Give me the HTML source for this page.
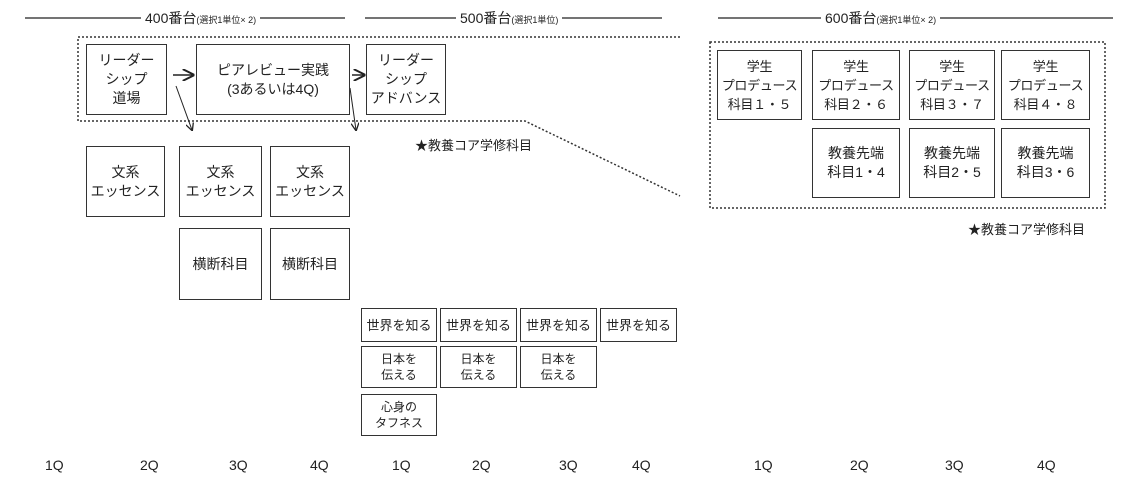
<!DOCTYPE html>
<html><head><meta charset="utf-8"><style>
body{margin:0;width:1134px;height:494px;background:#fff;position:relative;overflow:hidden;font-family:"Liberation Sans","Noto Sans CJK JP",sans-serif;color:#222}
.b{position:absolute;border:1.5px solid #333;box-sizing:border-box;display:flex;align-items:center;justify-content:center;text-align:center;font-size:14px;line-height:19px;background:#fff;white-space:nowrap}
.p{font-size:13px;letter-spacing:-0.3px}
.s{font-size:12px;line-height:16px}
.t{position:absolute;font-size:13px;white-space:nowrap}
.q{position:absolute;top:457px;font-size:14px}
.h{position:absolute;top:8px;font-size:14px;white-space:nowrap;background:#fff;padding:0 4px}
.h small{font-size:9px}
svg{position:absolute;left:0;top:0}
</style></head><body>
<svg width="1134" height="494">
<defs><marker id="a" markerWidth="8" markerHeight="8" refX="7" refY="4" orient="auto"><path d="M0,0 L8,4 L0,8" fill="none" stroke="#222" stroke-width="1.3"/></marker></defs>
<g stroke="#222" stroke-width="1.3">
<line x1="25" y1="18" x2="345" y2="18"/>
<line x1="365" y1="18" x2="662" y2="18"/>
<line x1="718" y1="18" x2="1113" y2="18"/>
</g>
<g fill="none" stroke="#333" stroke-width="1.5" stroke-dasharray="2,2">
<polyline points="680,37 78,37 78,121 525,121 680,196"/>
<rect x="710" y="42" width="395" height="166"/>
</g>
<g stroke="#222" stroke-width="1.5" fill="none">
<line x1="173" y1="75" x2="193" y2="75" marker-end="url(#a)"/>
<line x1="352" y1="75" x2="364" y2="75" marker-end="url(#a)"/>
</g>
<g stroke="#222" stroke-width="1" fill="none">
<line x1="176" y1="86" x2="192" y2="130" marker-end="url(#a)"/>
<line x1="350" y1="88" x2="356" y2="130" marker-end="url(#a)"/>
</g>
</svg>
<div class="h" style="left:141px">400番台<small>(選択1単位× 2)</small></div>
<div class="h" style="left:456px">500番台<small>(選択1単位)</small></div>
<div class="h" style="left:821px">600番台<small>(選択1単位× 2)</small></div>

<div class="b" style="left:86px;top:44px;width:81px;height:71px">リーダー<br>シップ<br>道場</div>
<div class="b" style="left:196px;top:44px;width:154px;height:71px">ピアレビュー実践<br>(3あるいは4Q)</div>
<div class="b" style="left:366px;top:44px;width:80px;height:71px">リーダー<br>シップ<br>アドバンス</div>
<div class="t" style="left:415px;top:135px">★教養コア学修科目</div>

<div class="b" style="left:86px;top:146px;width:79px;height:71px">文系<br>エッセンス</div>
<div class="b" style="left:179px;top:146px;width:83px;height:71px">文系<br>エッセンス</div>
<div class="b" style="left:270px;top:146px;width:80px;height:71px">文系<br>エッセンス</div>
<div class="b" style="left:179px;top:228px;width:83px;height:72px">横断科目</div>
<div class="b" style="left:270px;top:228px;width:80px;height:72px">横断科目</div>

<div class="b" style="left:361px;top:308px;width:76px;height:34px;font-size:13px">世界を知る</div>
<div class="b" style="left:440px;top:308px;width:77px;height:34px;font-size:13px">世界を知る</div>
<div class="b" style="left:520px;top:308px;width:77px;height:34px;font-size:13px">世界を知る</div>
<div class="b" style="left:600px;top:308px;width:77px;height:34px;font-size:13px">世界を知る</div>
<div class="b s" style="left:361px;top:346px;width:76px;height:42px">日本を<br>伝える</div>
<div class="b s" style="left:440px;top:346px;width:77px;height:42px">日本を<br>伝える</div>
<div class="b s" style="left:520px;top:346px;width:77px;height:42px">日本を<br>伝える</div>
<div class="b s" style="left:361px;top:394px;width:76px;height:42px">心身の<br>タフネス</div>

<div class="b p" style="left:717px;top:50px;width:85px;height:70px">学生<br>プロデュース<br>科目１・５</div>
<div class="b p" style="left:812px;top:50px;width:88px;height:70px">学生<br>プロデュース<br>科目２・６</div>
<div class="b p" style="left:909px;top:50px;width:86px;height:70px">学生<br>プロデュース<br>科目３・７</div>
<div class="b p" style="left:1001px;top:50px;width:89px;height:70px">学生<br>プロデュース<br>科目４・８</div>
<div class="b" style="left:812px;top:128px;width:88px;height:70px">教養先端<br>科目1・4</div>
<div class="b" style="left:909px;top:128px;width:86px;height:70px">教養先端<br>科目2・5</div>
<div class="b" style="left:1001px;top:128px;width:89px;height:70px">教養先端<br>科目3・6</div>
<div class="t" style="left:968px;top:219px">★教養コア学修科目</div>

<div class="q" style="left:45px">1Q</div><div class="q" style="left:140px">2Q</div>
<div class="q" style="left:229px">3Q</div><div class="q" style="left:310px">4Q</div>
<div class="q" style="left:392px">1Q</div><div class="q" style="left:472px">2Q</div>
<div class="q" style="left:559px">3Q</div><div class="q" style="left:632px">4Q</div>
<div class="q" style="left:754px">1Q</div><div class="q" style="left:850px">2Q</div>
<div class="q" style="left:945px">3Q</div><div class="q" style="left:1037px">4Q</div>
</body></html>
